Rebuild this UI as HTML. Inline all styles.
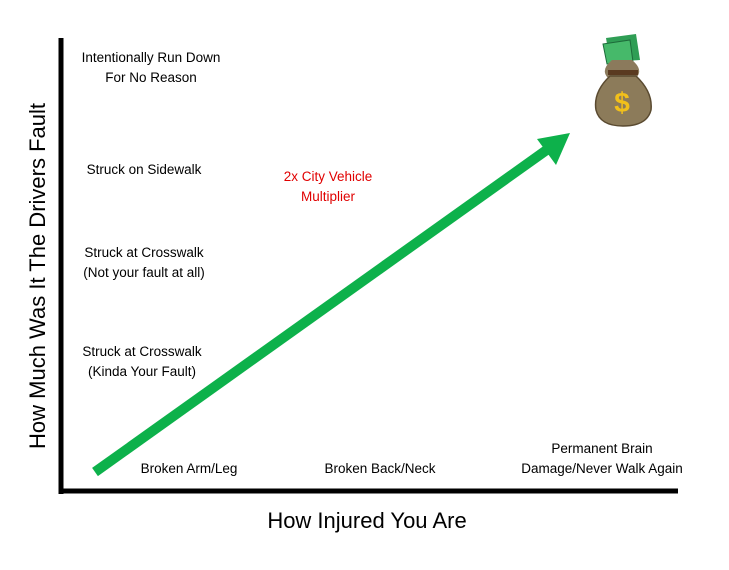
<!DOCTYPE html>
<html><head><style>
body{margin:0;width:729px;height:565px;background:#fff;overflow:hidden;font-family:"Liberation Sans",sans-serif;}
</style></head><body>
<svg width="729" height="565" xmlns="http://www.w3.org/2000/svg" font-family="Liberation Sans, sans-serif">
<rect width="729" height="565" fill="#fff"/>
<line x1="61" y1="38" x2="61" y2="494" stroke="#000" stroke-width="5"/>
<line x1="59" y1="491" x2="678" y2="491" stroke="#000" stroke-width="5"/>
<text transform="translate(45,276) rotate(-90)" text-anchor="middle" font-size="22">How Much Was It The Drivers Fault</text>
<text x="367" y="528" text-anchor="middle" font-size="22">How Injured You Are</text>
<g font-size="13.5" text-anchor="middle" fill="#000">
<text x="151" y="62">Intentionally Run Down</text>
<text x="151" y="82">For No Reason</text>
<text x="144" y="174">Struck on Sidewalk</text>
<text x="144" y="257">Struck at Crosswalk</text>
<text x="144" y="277">(Not your fault at all)</text>
<text x="142" y="356">Struck at Crosswalk</text>
<text x="142" y="376">(Kinda Your Fault)</text>
<text x="189" y="473">Broken Arm/Leg</text>
<text x="380" y="473">Broken Back/Neck</text>
<text x="602" y="453">Permanent Brain</text>
<text x="602" y="473">Damage/Never Walk Again</text>
<text x="328" y="181" fill="#e00000">2x City Vehicle</text>
<text x="328" y="201" fill="#e00000">Multiplier</text>
</g>
<line x1="95" y1="472" x2="548" y2="149" stroke="#0db14b" stroke-width="10"/>
<polygon points="570,133 537,139 556,165" fill="#0db14b"/>
<g>
<path d="M606,38 L636,34 L640,60 L610,62 Z" fill="#2f9e55"/>
<path d="M603,44 L630,40 L633,62 L607,64 Z" fill="#46b96a" stroke="#1d6b3a" stroke-width="1"/>
<path d="M612,60 Q600,70 608,78 L636,78 Q644,70 632,60 Z" fill="#8b7a5c"/>
<rect x="608" y="70" width="30" height="5" fill="#5a3a20"/>
<path d="M610,76 Q593,92 596,110 Q600,126 623,126 Q647,126 651,110 Q653,92 636,76 Z" fill="#8c7b5a" stroke="#5a4a30" stroke-width="1.5"/>
<text x="622" y="112" text-anchor="middle" font-size="28" font-weight="bold" fill="#f2c01a">$</text>
</g>
</svg>
</body></html>
